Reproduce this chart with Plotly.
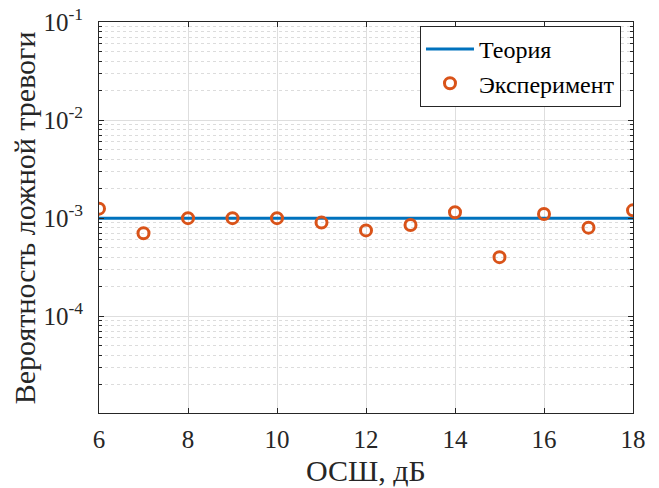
import numpy as np
import plotly.graph_objects as go

# SNR grid, dB
snr_db = [6, 7, 8, 9, 10, 11, 12, 13, 14, 15, 16, 17, 18]
# Theoretical false-alarm probability (constant threshold design)
pfa_theory = [1e-3] * len(snr_db)
# Measured false-alarm probability
pfa_experiment = [1.25e-3, 7.0e-4, 1.0e-3, 1.0e-3, 1.0e-3, 9.0e-4, 7.5e-4,
                  8.5e-4, 1.15e-3, 4.0e-4, 1.1e-3, 8.0e-4, 1.2e-3]

x_ticks = [6, 8, 10, 12, 14, 16, 18]
y_ticks = [1e-4, 1e-3, 1e-2, 1e-1]
y_ticktext = ["10<sup>-4</sup>", "10<sup>-3</sup>", "10<sup>-2</sup>", "10<sup>-1</sup>"]
y_minor = [m * 10.0 ** e for e in (-5, -4, -3, -2) for m in range(2, 10)]

x_title = "ОСШ, дБ"
y_title = "Вероятность ложной тревоги"

serif = "Liberation Serif"
axis_col = "#262626"
grid_col = "#dedede"

fig = go.Figure()
fig.add_trace(go.Scatter(
    x=snr_db, y=pfa_theory, mode="lines", name="Теория",
    line=dict(color="#0072BD", width=3),
))
fig.add_trace(go.Scatter(
    x=snr_db, y=pfa_experiment, mode="markers", name="Эксперимент",
    marker=dict(symbol="circle-open", size=11, color="#D95319",
                line=dict(width=3, color="#D95319")),
))

# Axis titles as paper-anchored annotations for exact placement
fig.add_annotation(text=x_title, xref="paper", yref="paper", x=0.5, y=-0.147,
                   xanchor="center", yanchor="middle", showarrow=False,
                   font=dict(family=serif, size=30, color=axis_col))
fig.add_annotation(text=y_title, xref="paper", yref="paper", x=-0.139, y=0.5,
                   xanchor="center", yanchor="middle", textangle=-90,
                   showarrow=False,
                   font=dict(family=serif, size=30, color=axis_col))

fig.update_layout(
    width=659, height=488,
    margin=dict(l=99, r=26, t=22, b=75, autoexpand=False),
    paper_bgcolor="white", plot_bgcolor="white",
    font=dict(family=serif, color=axis_col, size=20),
    showlegend=True,
    legend=dict(
        x=0.9775, y=0.99, xanchor="right", yanchor="top",
        bgcolor="white", bordercolor=axis_col, borderwidth=1,
        font=dict(family=serif, size=24, color="black"),
        tracegroupgap=0, itemwidth=48,
    ),
    xaxis=dict(
        range=[6, 18], tickvals=x_ticks, ticks="inside", ticklen=5,
        tickcolor=axis_col, showline=True, linecolor=axis_col, linewidth=1,
        mirror="ticks", showgrid=True, gridcolor=grid_col, gridwidth=1,
        zeroline=False, ticklabelstandoff=4, automargin=False,
        tickfont=dict(family=serif, size=25, color=axis_col),
    ),
    yaxis=dict(
        type="log", range=[np.log10(1.03e-5), -1],
        tickvals=y_ticks, ticktext=y_ticktext, ticks="inside", ticklen=5,
        tickcolor=axis_col, showline=True, linecolor=axis_col, linewidth=1,
        mirror="ticks", showgrid=True, gridcolor=grid_col, gridwidth=1,
        zeroline=False, ticklabelstandoff=10, automargin=False,
        tickfont=dict(family=serif, size=25, color=axis_col),
        minor=dict(tickvals=y_minor, ticks="inside", ticklen=3,
                   tickcolor=axis_col, showgrid=True, gridcolor="#dcdcdc",
                   griddash="dot", gridwidth=1),
    ),
)

fig.write_html("out.html")
